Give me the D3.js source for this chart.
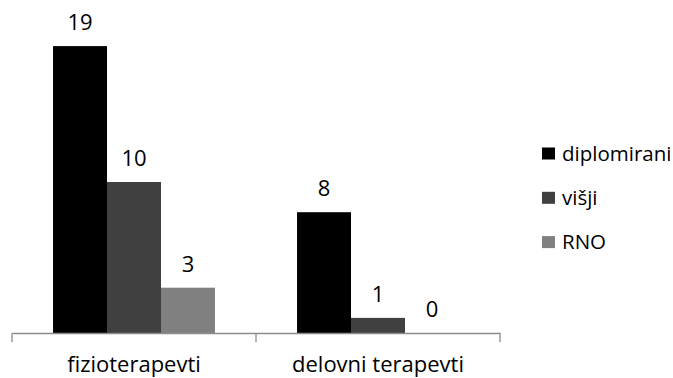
<!DOCTYPE html>
<html>
<head>
<meta charset="utf-8">
<script src="https://cdn.jsdelivr.net/npm/d3@7"></script>
<style>
  body { margin: 0; background: #fff; }
  text { font-family: "Open Sans", sans-serif; fill: #000; }
</style>
</head>
<body>
<div id="chart"></div>
<script>
const width = 673;
const height = 378;

// --- Data ---
const categories = ["fizioterapevti", "delovni terapevti"];
const seriesNames = ["diplomirani", "višji", "RNO"];
const diplomirani = [19, 8];
const visji = [10, 1];
const rno = [3, 0];
const seriesColors = ["#000000", "#404040", "#808080"];

const values = [diplomirani, visji, rno];

const svg = d3.select("#chart")
  .append("svg")
  .attr("width", width)
  .attr("height", height);

// --- Scales ---
const x0 = d3.scaleBand()
  .domain(categories)
  .range([12, 500])
  .padding(0);

const x1 = d3.scaleBand()
  .domain(seriesNames)
  .range([0, x0.bandwidth()])
  .paddingInner(0)
  .paddingOuter(0.76);

const y = d3.scaleLinear()
  .domain([0, 20])
  .range([333, 31]);

const color = d3.scaleOrdinal()
  .domain(seriesNames)
  .range(seriesColors);

// --- Bars ---
const groups = svg.append("g")
  .selectAll("g")
  .data(categories)
  .enter()
  .append("g")
  .attr("transform", d => `translate(${x0(d)},0)`);

const cells = groups.selectAll("g.cell")
  .data((c, i) => seriesNames.map((s, j) => ({ series: s, value: values[j][i] })))
  .enter()
  .append("g")
  .attr("class", "cell");

cells.append("rect")
  .attr("x", d => x1(d.series))
  .attr("y", d => y(d.value))
  .attr("width", x1.bandwidth())
  .attr("height", d => y(0) - y(d.value))
  .attr("fill", d => color(d.series));

cells.append("text")
  .attr("x", d => x1(d.series) + x1.bandwidth() / 2)
  .attr("y", d => y(d.value) - 16)
  .attr("text-anchor", "middle")
  .style("font-size", "22px")
  .text(d => d.value);

// --- Axis ---
const axis = svg.append("g")
  .attr("transform", `translate(0,${y(0)})`)
  .call(d3.axisBottom(x0).tickSize(0).tickSizeOuter(0));

axis.select(".domain").attr("stroke", "#8c8c8c").attr("stroke-width", 1.3);
axis.selectAll(".tick text")
  .style("font-size", "22px")
  .style("font-family", "'Open Sans', sans-serif")
  .attr("dy", 0)
  .attr("y", 39)
  .attr("fill", "#000");

// tick marks at band boundaries
const bounds = categories.map(c => x0(c)).concat([x0.range()[1]]);
axis.selectAll("line.sep")
  .data(bounds)
  .enter()
  .append("line")
  .attr("class", "sep")
  .attr("x1", d => d)
  .attr("x2", d => d)
  .attr("y1", 0)
  .attr("y2", 9)
  .attr("stroke", "#8c8c8c")
  .attr("stroke-width", 1.3);

// --- Legend ---
const legend = svg.append("g")
  .selectAll("g")
  .data(seriesNames)
  .enter()
  .append("g")
  .attr("transform", (d, i) => `translate(542,${153.5 + i * 44.3})`);

legend.append("rect")
  .attr("x", 0)
  .attr("y", -6)
  .attr("width", 13)
  .attr("height", 12)
  .attr("fill", d => color(d));

legend.append("text")
  .attr("x", 20)
  .attr("y", 7)
  .style("font-size", "20.5px")
  .text(d => d);
</script>
</body>
</html>
